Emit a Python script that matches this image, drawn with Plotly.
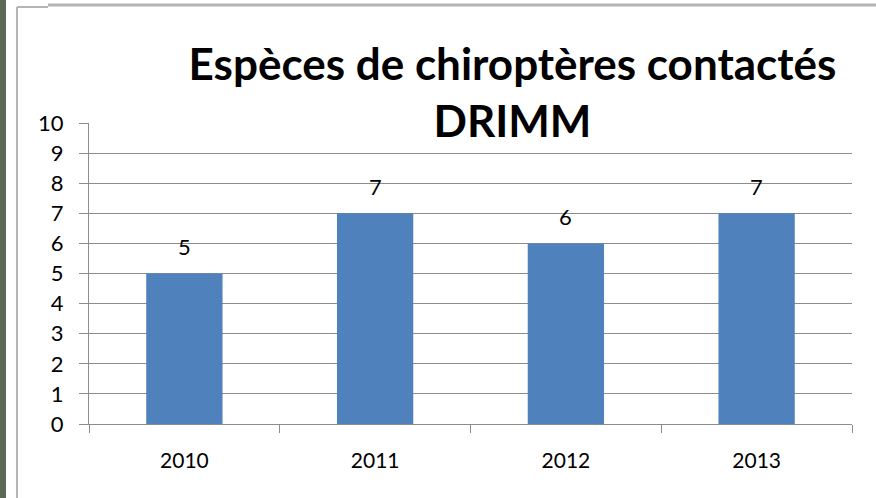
import plotly.graph_objects as go

# Species of bats recorded per year
years = ["2010", "2011", "2012", "2013"]
species_count = [5, 7, 6, 7]
y_ticks = list(range(0, 11))

bar_color = "#4f81bd"
grid_color = "#8c8c8c"
font_family = "Lato, Open Sans, sans-serif"

fig = go.Figure(
    go.Bar(
        x=years,
        y=species_count,
        marker=dict(color=bar_color, line=dict(width=0)),
        width=0.4,
    )
)

# value labels above each bar (category axes are indexed by position)
for idx, count in enumerate(species_count):
    fig.add_annotation(
        x=idx, y=count, text=str(count), showarrow=False,
        yanchor="middle", yshift=27,
        font=dict(size=22, color="#000000", family=font_family),
    )

fig.update_layout(
    width=876,
    height=498,
    margin=dict(l=89, r=24, t=123, b=74, autoexpand=False),
    paper_bgcolor="#ffffff",
    plot_bgcolor="#ffffff",
    showlegend=False,
    font=dict(family=font_family, color="#000000", size=21),
    title=dict(
        text="<b>Espèces de chiroptères contactés<br>DRIMM</b>",
        x=0.585,
        xanchor="center",
        y=0.84,
        yanchor="middle",
        font=dict(size=44, family=font_family, color="#000000"),
    ),
    xaxis=dict(
        type="category",
        categoryorder="array",
        categoryarray=years,
        range=[-0.5, len(years) - 0.5],
        showgrid=False,
        showline=True,
        linecolor=grid_color,
        linewidth=1,
        ticks="outside",
        tickson="boundaries",
        ticklen=8,
        tickcolor=grid_color,
        tickfont=dict(size=21),
        tickangle=0,
        ticklabelstandoff=18,
    ),
    yaxis=dict(
        range=[0, 10],
        tickvals=y_ticks,
        showgrid=True,
        gridcolor=grid_color,
        gridwidth=1,
        showline=True,
        linecolor=grid_color,
        linewidth=1,
        ticks="outside",
        ticklen=9,
        tickcolor=grid_color,
        tickfont=dict(size=22),
        ticklabelstandoff=11,
        zeroline=False,
    ),
    shapes=[
        # dark strip along the left edge
        dict(type="rect", xref="paper", yref="paper", x0=-89 / 763, x1=-83 / 763,
             y0=-74 / 301, y1=1 + 123 / 301, fillcolor="#5d6859", line=dict(width=0),
             layer="below"),
        # chart frame: left edge
        dict(type="line", xref="paper", yref="paper", x0=-72 / 763, x1=-72 / 763,
             y0=-74 / 301, y1=1 + 116 / 301, line=dict(color="#b4b4b4", width=2)),
        # chart frame: short top segment
        dict(type="line", xref="paper", yref="paper", x0=-72 / 763, x1=-41 / 763,
             y0=1 + 116 / 301, y1=1 + 116 / 301, line=dict(color="#b4b4b4", width=2)),
        # chart frame: long top segment
        dict(type="line", xref="paper", yref="paper", x0=-41 / 763, x1=1 + 24 / 763,
             y0=1 + 118 / 301, y1=1 + 118 / 301, line=dict(color="#b4b4b4", width=3)),
    ],
)

fig.write_html("out.html")
